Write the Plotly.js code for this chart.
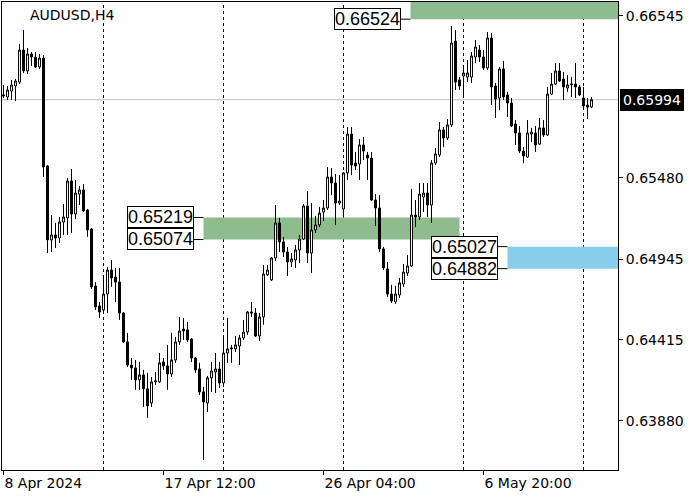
<!DOCTYPE html>
<html><head><meta charset="utf-8">
<script src="https://cdn.plot.ly/plotly-3.0.1.min.js"></script>
<style>html,body{margin:0;padding:0;background:#fff}#chart{width:700px;height:500px}</style>
</head><body><div id="chart"></div>
<script>
// AUDUSD H4 candles (bar 0 = 8 Apr 2024 20:00)
const open = [0.66018,0.66012,0.66051,0.66084,0.66110,0.66321,0.66183,0.66295,0.66275,0.66209,
0.66268,0.65558,0.65071,0.65104,0.65084,0.65189,0.65216,0.65459,0.65242,0.65373,
0.65400,0.65268,0.65143,0.64768,0.64637,0.64610,0.64715,0.64873,0.64827,0.64794,
0.64590,0.64400,0.64248,0.64229,0.64150,0.64183,0.64091,0.63998,0.64137,0.64137,
0.64268,0.64242,0.64189,0.64281,0.64400,0.64485,0.64479,0.64419,0.64294,0.64222,
0.64071,0.63998,0.64163,0.64202,0.64222,0.64130,0.64327,0.64354,0.64354,0.64373,
0.64426,0.64465,0.64597,0.64590,0.64439,0.64564,0.64841,0.64808,0.64952,0.65183,
0.65058,0.64992,0.64926,0.64939,0.65005,0.65077,0.65295,0.64985,0.65137,0.65170,
0.65255,0.65281,0.65485,0.65446,0.65314,0.65275,0.65512,0.65768,0.65577,0.65571,
0.65696,0.65630,0.65610,0.65334,0.65281,0.65012,0.64880,0.64715,0.64663,0.64709,
0.64781,0.64854,0.64900,0.65235,0.65222,0.65354,0.65380,0.65301,0.65577,0.65630,
0.65795,0.65742,0.65828,0.66380,0.66124,0.66150,0.66143,0.66143,0.66275,0.66321,
0.66275,0.66203,0.66400,0.66084,0.66005,0.66196,0.66025,0.65972,0.65834,0.65775,
0.65656,0.65617,0.65768,0.65775,0.65702,0.65808,0.65762,0.66031,0.66097,0.66183,
0.66130,0.66071,0.66091,0.66097,0.66078,0.66005,0.65959,0.65946];
const high = [0.66091,0.66084,0.66124,0.66130,0.66360,0.66453,0.66334,0.66308,0.66308,0.66295,
0.66288,0.65564,0.65235,0.65183,0.65222,0.65308,0.65479,0.65538,0.65466,0.65426,
0.65439,0.65275,0.65150,0.64794,0.64663,0.64821,0.64893,0.64939,0.64887,0.64887,
0.64597,0.64459,0.64294,0.64281,0.64268,0.64216,0.64196,0.64169,0.64202,0.64327,
0.64294,0.64380,0.64459,0.64433,0.64564,0.64558,0.64531,0.64426,0.64301,0.64262,
0.64104,0.64176,0.64268,0.64327,0.64268,0.64446,0.64558,0.64380,0.64439,0.64446,
0.64544,0.64604,0.64663,0.64623,0.64590,0.64906,0.64906,0.64959,0.65301,0.65216,
0.65091,0.65025,0.64985,0.65038,0.65104,0.65308,0.65393,0.65314,0.65229,0.65288,
0.65334,0.65551,0.65545,0.65505,0.65498,0.65518,0.65814,0.65814,0.65650,0.65735,
0.65749,0.65650,0.65650,0.65373,0.65367,0.65025,0.64926,0.64775,0.64768,0.64821,
0.64913,0.64972,0.65406,0.65334,0.65446,0.65446,0.65446,0.65597,0.65676,0.65847,
0.65814,0.65867,0.66479,0.66453,0.66143,0.66203,0.66255,0.66308,0.66387,0.66354,
0.66321,0.66439,0.66433,0.66104,0.66209,0.66249,0.66045,0.66005,0.65860,0.65821,
0.65683,0.65860,0.65808,0.65821,0.65874,0.65860,0.66078,0.66170,0.66235,0.66235,
0.66176,0.66157,0.66143,0.66235,0.66091,0.66078,0.66005,0.66012];
const low = [0.66005,0.65992,0.65992,0.65985,0.66097,0.66170,0.66163,0.66216,0.66203,0.66196,
0.65485,0.64985,0.64992,0.65018,0.65051,0.65104,0.65104,0.65117,0.65209,0.65301,
0.65255,0.65091,0.64748,0.64610,0.64558,0.64590,0.64590,0.64762,0.64663,0.64544,
0.64393,0.64235,0.64150,0.64084,0.64084,0.63972,0.63900,0.63972,0.64117,0.64130,
0.64216,0.64084,0.64169,0.64262,0.64380,0.64413,0.64400,0.64268,0.64196,0.64051,
0.63623,0.63939,0.64071,0.64064,0.64097,0.64104,0.64262,0.64262,0.64334,0.64248,
0.64413,0.64446,0.64564,0.64433,0.64406,0.64512,0.64834,0.64801,0.64933,0.64992,
0.64959,0.64834,0.64893,0.64887,0.64919,0.65071,0.64919,0.64854,0.65117,0.65156,
0.65196,0.65268,0.65367,0.65170,0.65301,0.65235,0.65466,0.65498,0.65531,0.65466,
0.65597,0.65466,0.65327,0.65163,0.64992,0.64873,0.64696,0.64656,0.64650,0.64689,
0.64762,0.64834,0.64893,0.65156,0.65202,0.65255,0.65222,0.65183,0.65564,0.65617,
0.65683,0.65729,0.65814,0.66058,0.66058,0.66012,0.66110,0.66104,0.66235,0.66242,
0.66189,0.66189,0.65959,0.65874,0.65926,0.65992,0.65880,0.65814,0.65696,0.65643,
0.65577,0.65610,0.65716,0.65650,0.65696,0.65749,0.65755,0.66025,0.66091,0.66110,
0.65992,0.66045,0.66012,0.66005,0.66018,0.65946,0.65867,0.65939];
const close = [0.66025,0.66058,0.66091,0.66117,0.66321,0.66183,0.66295,0.66275,0.66209,0.66268,
0.65551,0.65071,0.65104,0.65084,0.65189,0.65222,0.65459,0.65242,0.65380,0.65400,
0.65262,0.65137,0.64762,0.64630,0.64597,0.64715,0.64873,0.64821,0.64794,0.64590,
0.64400,0.64248,0.64229,0.64150,0.64183,0.64091,0.63979,0.64137,0.64143,0.64262,
0.64242,0.64189,0.64281,0.64400,0.64472,0.64472,0.64413,0.64294,0.64216,0.64071,
0.64005,0.64163,0.64209,0.64222,0.64130,0.64327,0.64354,0.64360,0.64380,0.64426,
0.64465,0.64597,0.64590,0.64439,0.64564,0.64847,0.64873,0.64952,0.65183,0.65058,
0.64992,0.64926,0.64946,0.65005,0.65077,0.65295,0.64985,0.65137,0.65170,0.65248,
0.65281,0.65485,0.65446,0.65314,0.65327,0.65512,0.65768,0.65564,0.65558,0.65696,
0.65656,0.65610,0.65334,0.65281,0.65012,0.64887,0.64715,0.64669,0.64715,0.64788,
0.64860,0.64900,0.65235,0.65222,0.65373,0.65380,0.65301,0.65577,0.65637,0.65795,
0.65742,0.65828,0.66367,0.66110,0.66084,0.66170,0.66170,0.66282,0.66341,0.66275,
0.66203,0.66400,0.66078,0.65999,0.66196,0.66012,0.65972,0.65821,0.65775,0.65656,
0.65624,0.65775,0.65781,0.65696,0.65808,0.65762,0.66031,0.66097,0.66183,0.66117,
0.66078,0.66091,0.66097,0.66078,0.66025,0.65953,0.65946,0.65994];

const xTickBars = [0, 40, 80, 120];
const xTickLabels = ['8 Apr 2024', '17 Apr 12:00', '26 Apr 04:00', '6 May 20:00'];
const weekStartBars = [25, 55, 85, 115, 145];
const yTickValues = [0.66545, 0.65480, 0.64945, 0.64415, 0.63880];
const bidPrice = 0.65994;
const symbolTitle = 'AUDUSD,H4';

// zones: [startBar, lowPrice, highPrice, (endBar)]
const zoneTop = [101.75, 0.66524, 0.66700];
const zoneMid = [50, 0.65074, 0.65219, 114];
const zoneBlue = [126, 0.64882, 0.65027];
const labelTop = [0.66524];
const labelMid = [0.65219, 0.65074];
const labelBlue = [0.65027, 0.64882];

const bars = open.map((v, k) => k);

const GREEN = 'rgb(143,188,143)';
const BLUE = 'rgb(135,206,235)';
const FONT = 'DejaVu Sans, Verdana, sans-serif';
const LFONT = 'Liberation Sans, Arial, sans-serif';

const trace = {
  type: 'candlestick', x: bars, open: open, high: high, low: low, close: close,
  increasing: {line: {color: '#000', width: 1}, fillcolor: '#fff'},
  decreasing: {line: {color: '#000', width: 1}, fillcolor: '#000'},
  whiskerwidth: 0, hoverinfo: 'skip', showlegend: false
};

const shapes = [];
weekStartBars.forEach(b => shapes.push({type: 'line', xref: 'x', yref: 'paper', x0: b, x1: b, y0: 0, y1: 1,
  line: {color: '#000', width: 1, dash: '3px,3px'}, layer: 'below'}));
shapes.push({type: 'line', xref: 'paper', yref: 'y', x0: 0, x1: 1, y0: bidPrice, y1: bidPrice,
  line: {color: '#c0c0c0', width: 1}, layer: 'below'});
shapes.push({type: 'rect', xref: 'x', yref: 'y', x0: zoneTop[0], x1: 170, y0: zoneTop[1], y1: zoneTop[2],
  fillcolor: GREEN, line: {width: 0}, layer: 'below'});
shapes.push({type: 'rect', xref: 'x', yref: 'y', x0: zoneMid[0], x1: zoneMid[3], y0: zoneMid[1], y1: zoneMid[2],
  fillcolor: GREEN, line: {width: 0}, layer: 'below'});
shapes.push({type: 'rect', xref: 'x', yref: 'y', x0: zoneBlue[0], x1: 170, y0: zoneBlue[1], y1: zoneBlue[2],
  fillcolor: BLUE, line: {width: 0}, layer: 'below'});

const annotations = [];
function addLabels(vals, zoneStart) {
  vals.forEach(v => {
    shapes.push({type: 'line', xref: 'x', yref: 'y', x0: zoneStart - 2.5, x1: zoneStart, y0: v, y1: v,
      line: {color: '#000', width: 1}});
    annotations.push({xref: 'x', yref: 'y', x: zoneStart - 2.5, y: v, xanchor: 'right', yanchor: 'middle',
      text: v.toFixed(5), showarrow: false, bgcolor: '#fff', bordercolor: '#000', borderwidth: 1, borderpad: 0,
      font: {family: LFONT, size: 18, color: '#000'}});
  });
}
addLabels(labelTop, zoneTop[0]);
addLabels(labelMid, zoneMid[0]);
addLabels(labelBlue, zoneBlue[0]);

annotations.push({xref: 'paper', yref: 'paper', x: 26/616, y: 1 - 13/468, xanchor: 'left', yanchor: 'middle',
  text: symbolTitle, showarrow: false, font: {family: FONT, size: 14, color: '#000'}});
annotations.push({xref: 'paper', yref: 'y', x: 1, xshift: 2, y: bidPrice, xanchor: 'left', yanchor: 'middle',
  text: bidPrice.toFixed(5), showarrow: false, bgcolor: '#000', bordercolor: '#000', borderwidth: 1, borderpad: 2,
  font: {family: FONT, size: 14, color: '#fff'}});

const layout = {
  width: 700, height: 500,
  margin: {l: 2, r: 82, t: 2, b: 30, pad: 0},
  paper_bgcolor: '#fff', plot_bgcolor: '#fff',
  showlegend: false,
  xaxis: {range: [-0.375, 153.625], tickmode: 'array', tickvals: xTickBars, ticktext: xTickLabels,
    ticks: 'outside', ticklen: 4, tickcolor: '#000', showline: true, linecolor: '#000', linewidth: 1, mirror: true,
    showgrid: false, zeroline: false, rangeslider: {visible: false}, ticklabelposition: 'outside right',
    tickfont: {family: FONT, size: 14, color: '#000'}},
  yaxis: {side: 'right', range: [0.63557, 0.66637], tickmode: 'array', tickvals: yTickValues, tickformat: '.5f',
    ticks: 'outside', ticklen: 4, tickcolor: '#000', showline: true, linecolor: '#000', linewidth: 1, mirror: true,
    showgrid: false, zeroline: false, tickfont: {family: FONT, size: 14, color: '#000'}},
  shapes: shapes, annotations: annotations
};
Plotly.newPlot('chart', [trace], layout, {displayModeBar: false, staticPlot: true});
</script></body></html>
